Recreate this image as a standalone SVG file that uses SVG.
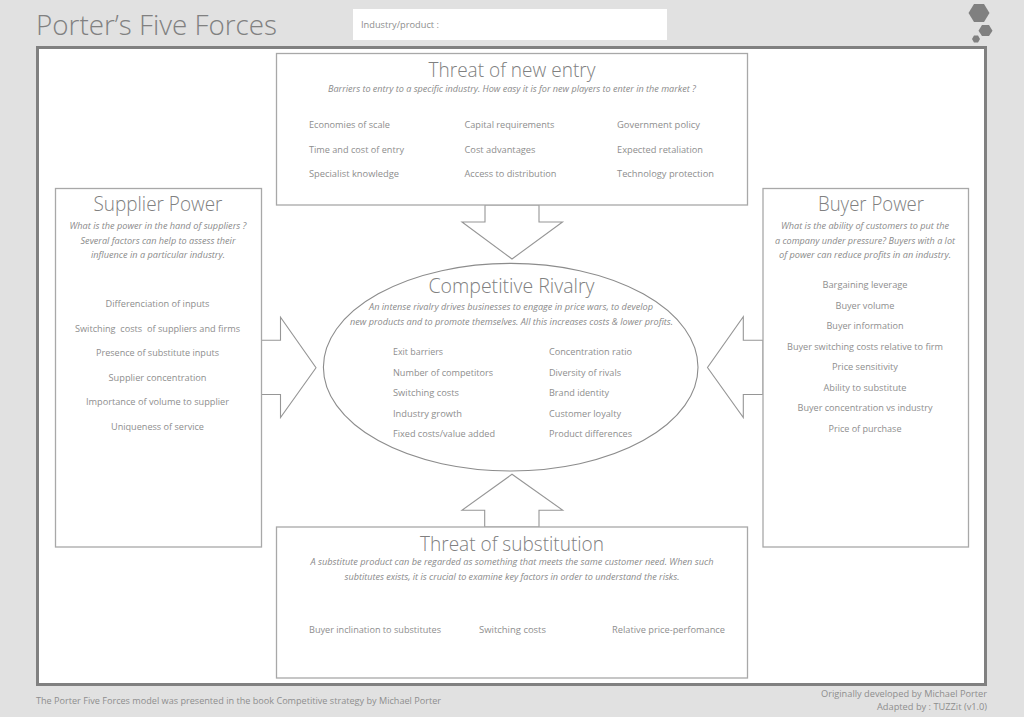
<svg xmlns="http://www.w3.org/2000/svg" width="1024" height="717" viewBox="0 0 1024 717">
<style>
text{font-family:"Open Sans","Noto Sans","Liberation Sans",sans-serif;fill:#808080}
.t{font-size:20px;text-anchor:middle;fill:#808080;font-weight:300}
.d{font-size:9.5px;font-style:italic;text-anchor:middle;fill:#8a8a8a}
.i{font-size:9.5px;fill:#8e8e8e}
.c{text-anchor:middle}
.b{fill:#fff;stroke:#a8a8a8;stroke-width:1.3}
.a{fill:#fff;stroke:#969696;stroke-width:1.1}
.h{fill:#808080}
</style>
<rect width="1024" height="717" fill="#e1e1e1"/>
<rect x="37.500" y="47.500" width="948" height="637" fill="#fff" stroke="#808080" stroke-width="3"/>
<g id="header">
<text x="36" y="35" font-size="27" font-weight="300" textLength="241" lengthAdjust="spacingAndGlyphs">Porter’s Five Forces</text>
<rect x="353" y="9" width="314" height="31" fill="#fff"/>
<text x="361" y="27.500" font-size="9.500" style="fill:#8e8e8e" textLength="78" lengthAdjust="spacingAndGlyphs">Industry/product :</text>
<polygon class="h" points="968.500,13 974,4 984,4 989.500,13 984,22 974,22"/>
<polygon class="h" points="978.500,30.700 982,25 989,25 992.500,30.700 989,36 982,36"/>
<polygon class="h" points="972,39 974,35.500 978,35.500 980,39 978,42.500 974,42.500"/>
</g>
<g id="connectors">
<polygon class="a" points="485,205 485,222 462,222 512,259 562.500,222 539,222 539,205"/>
<polygon class="a" points="261,340.300 280.500,340.300 280.500,317.300 316,367.700 280.500,417.500 280.500,394.500 261,394.500"/>
<polygon class="a" points="763,340.300 743.300,340.300 743.300,316.800 707.500,367.500 743.300,417.500 743.300,394.500 763,394.500"/>
<polygon class="a" points="484.700,527 484.700,510.200 462,510.200 512,474.300 562.700,510.200 539,510.200 539,527"/>
</g>
<g id="new-entry">
<rect class="b" x="276.500" y="53.500" width="471" height="151.500"/>
<text class="t" x="512" y="77" textLength="167" lengthAdjust="spacingAndGlyphs">Threat of new entry</text>
<text class="d" x="512" y="92" textLength="368" lengthAdjust="spacingAndGlyphs">Barriers to entry to a specific industry. How easy it is for new players to enter in the market ?</text>
<text class="i" x="309" y="127.500" textLength="81" lengthAdjust="spacingAndGlyphs">Economies of scale</text>
<text class="i" x="309" y="152.500" textLength="95" lengthAdjust="spacingAndGlyphs">Time and cost of entry</text>
<text class="i" x="309" y="177" textLength="90" lengthAdjust="spacingAndGlyphs">Specialist knowledge</text>
<text class="i" x="464.500" y="127.500" textLength="90" lengthAdjust="spacingAndGlyphs">Capital requirements</text>
<text class="i" x="464.500" y="152.500" textLength="71" lengthAdjust="spacingAndGlyphs">Cost advantages</text>
<text class="i" x="464.500" y="177" textLength="92" lengthAdjust="spacingAndGlyphs">Access to distribution</text>
<text class="i" x="617" y="127.500" textLength="83" lengthAdjust="spacingAndGlyphs">Government policy</text>
<text class="i" x="617" y="152.500" textLength="86" lengthAdjust="spacingAndGlyphs">Expected retaliation</text>
<text class="i" x="617" y="177" textLength="97" lengthAdjust="spacingAndGlyphs">Technology protection</text>
</g>
<g id="supplier-power">
<rect class="b" x="55.500" y="188.500" width="206" height="358.500"/>
<text class="t" x="158" y="210.500" textLength="129" lengthAdjust="spacingAndGlyphs">Supplier Power</text>
<text class="d" x="158" y="229" textLength="177" lengthAdjust="spacingAndGlyphs">What is the power in the hand of suppliers ?</text>
<text class="d" x="158" y="244" textLength="155" lengthAdjust="spacingAndGlyphs">Several factors can help to assess their</text>
<text class="d" x="158" y="258" textLength="134" lengthAdjust="spacingAndGlyphs">influence in a particular industry.</text>
<text class="i c" x="157.500" y="307" textLength="104" lengthAdjust="spacingAndGlyphs">Differenciation of inputs</text>
<text class="i c" x="157.500" y="331.500" textLength="165" lengthAdjust="spacingAndGlyphs" xml:space="preserve">Switching  costs  of suppliers and firms</text>
<text class="i c" x="157.500" y="356" textLength="123" lengthAdjust="spacingAndGlyphs">Presence of substitute inputs</text>
<text class="i c" x="157.500" y="380.500" textLength="98" lengthAdjust="spacingAndGlyphs">Supplier concentration</text>
<text class="i c" x="157.500" y="405" textLength="143" lengthAdjust="spacingAndGlyphs">Importance of volume to supplier</text>
<text class="i c" x="157.500" y="430" textLength="93" lengthAdjust="spacingAndGlyphs">Uniqueness of service</text>
</g>
<g id="buyer-power">
<rect class="b" x="763" y="188.500" width="205.500" height="358.500"/>
<text class="t" x="871" y="210.500" textLength="106" lengthAdjust="spacingAndGlyphs">Buyer Power</text>
<text class="d" x="865" y="229" textLength="168" lengthAdjust="spacingAndGlyphs">What is the ability of customers to put the</text>
<text class="d" x="865" y="244" textLength="180" lengthAdjust="spacingAndGlyphs">a company under pressure? Buyers with a lot</text>
<text class="d" x="865" y="258" textLength="172" lengthAdjust="spacingAndGlyphs">of power can reduce profits in an industry.</text>
<text class="i c" x="865" y="288" textLength="85" lengthAdjust="spacingAndGlyphs">Bargaining leverage</text>
<text class="i c" x="865" y="308.500" textLength="59" lengthAdjust="spacingAndGlyphs">Buyer volume</text>
<text class="i c" x="865" y="329" textLength="77" lengthAdjust="spacingAndGlyphs">Buyer information</text>
<text class="i c" x="865" y="349.500" textLength="156" lengthAdjust="spacingAndGlyphs">Buyer switching costs relative to firm</text>
<text class="i c" x="865" y="370" textLength="66" lengthAdjust="spacingAndGlyphs">Price sensitivity</text>
<text class="i c" x="865" y="390.500" textLength="83" lengthAdjust="spacingAndGlyphs">Ability to substitute</text>
<text class="i c" x="865" y="411" textLength="135" lengthAdjust="spacingAndGlyphs">Buyer concentration vs industry</text>
<text class="i c" x="865" y="431.500" textLength="73" lengthAdjust="spacingAndGlyphs">Price of purchase</text>
</g>
<g id="competitive-rivalry">
<ellipse cx="510.700" cy="367.200" rx="187.300" ry="103.800" fill="#fff" stroke="#8c8c8c" stroke-width="1.100"/>
<text class="t" x="511.500" y="292.500" textLength="166" lengthAdjust="spacingAndGlyphs">Competitive Rivalry</text>
<text class="d" x="511" y="310" textLength="284" lengthAdjust="spacingAndGlyphs">An intense rivalry drives businesses to engage in price wars, to develop</text>
<text class="d" x="511.500" y="325" textLength="323" lengthAdjust="spacingAndGlyphs">new products and to promote themselves. All this increases costs &amp; lower profits.</text>
<text class="i" x="393" y="355" textLength="50" lengthAdjust="spacingAndGlyphs">Exit barriers</text>
<text class="i" x="393" y="375.500" textLength="100" lengthAdjust="spacingAndGlyphs">Number of competitors</text>
<text class="i" x="393" y="396" textLength="66" lengthAdjust="spacingAndGlyphs">Switching costs</text>
<text class="i" x="393" y="416.500" textLength="69" lengthAdjust="spacingAndGlyphs">Industry growth</text>
<text class="i" x="393" y="437" textLength="102" lengthAdjust="spacingAndGlyphs">Fixed costs/value added</text>
<text class="i" x="549" y="355" textLength="83" lengthAdjust="spacingAndGlyphs">Concentration ratio</text>
<text class="i" x="549" y="375.500" textLength="72" lengthAdjust="spacingAndGlyphs">Diversity of rivals</text>
<text class="i" x="549" y="396" textLength="60" lengthAdjust="spacingAndGlyphs">Brand identity</text>
<text class="i" x="549" y="416.500" textLength="72" lengthAdjust="spacingAndGlyphs">Customer loyalty</text>
<text class="i" x="549" y="437" textLength="83" lengthAdjust="spacingAndGlyphs">Product differences</text>
</g>
<g id="substitution">
<rect class="b" x="276.500" y="527" width="471" height="151"/>
<text class="t" x="512" y="550.500" textLength="184" lengthAdjust="spacingAndGlyphs">Threat of substitution</text>
<text class="d" x="512" y="565" textLength="403" lengthAdjust="spacingAndGlyphs">A substitute product can be regarded as something that meets the same customer need. When such</text>
<text class="d" x="512" y="580" textLength="335" lengthAdjust="spacingAndGlyphs">subtitutes exists, it is crucial to examine key factors in order to understand the risks.</text>
<text class="i" x="309" y="633" textLength="132" lengthAdjust="spacingAndGlyphs">Buyer inclination to substitutes</text>
<text class="i" x="479" y="633" textLength="67" lengthAdjust="spacingAndGlyphs">Switching costs</text>
<text class="i" x="612" y="633" textLength="113" lengthAdjust="spacingAndGlyphs">Relative price-perfomance</text>
</g>
<g id="footer">
<text class="i" x="36" y="704" textLength="405" lengthAdjust="spacingAndGlyphs">The Porter Five Forces model was presented in the book Competitive strategy by Michael Porter</text>
<text class="i" x="987" y="696.500" text-anchor="end" textLength="166" lengthAdjust="spacingAndGlyphs">Originally developed by Michael Porter</text>
<text class="i" x="987" y="709.500" text-anchor="end" textLength="110" lengthAdjust="spacingAndGlyphs">Adapted by : TUZZit (v1.0)</text>
</g>
</svg>
